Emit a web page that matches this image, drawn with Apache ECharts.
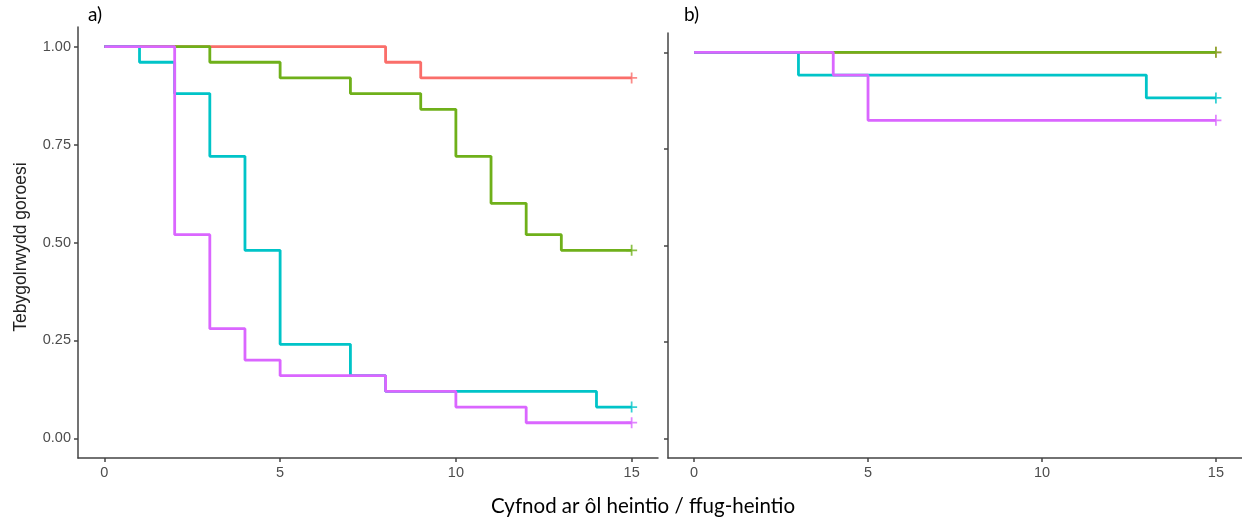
<!DOCTYPE html>
<html>
<head>
<meta charset="utf-8">
<script src="https://cdn.jsdelivr.net/npm/echarts@6/dist/echarts.min.js"></script>
<style>
  html, body { margin: 0; padding: 0; background: #ffffff; }
  #chart { width: 1242px; height: 517px; }
</style>
</head>
<body>
<div id="chart"></div>
<script>
// Kaplan–Meier survival curves, two panels
const xTicks = [0, 5, 10, 15];
const yTicks = [0, 0.25, 0.5, 0.75, 1];
const endTime = 15;

// Panel a
const aRedTimes = [0, 8, 9, 15];
const aRedSurv = [1, 0.96, 0.92, 0.92];
const aGreenTimes = [0, 3, 5, 7, 9, 10, 11, 12, 13, 15];
const aGreenSurv = [1, 0.96, 0.92, 0.88, 0.84, 0.72, 0.60, 0.52, 0.48, 0.48];
const aCyanTimes = [0, 1, 2, 3, 4, 5, 7, 8, 14, 15];
const aCyanSurv = [1, 0.96, 0.88, 0.72, 0.48, 0.24, 0.16, 0.12, 0.08, 0.08];
const aMagentaTimes = [0, 2, 3, 4, 5, 8, 10, 12, 15];
const aMagentaSurv = [1, 0.52, 0.28, 0.20, 0.16, 0.12, 0.08, 0.04, 0.04];

// Panel b
const bRedTimes = [0, 15];
const bRedSurv = [1, 1];
const bGreenTimes = [0, 15];
const bGreenSurv = [1, 1];
const bCyanTimes = [0, 3, 13, 15];
const bCyanSurv = [1, 0.941, 0.882, 0.882];
const bMagentaTimes = [0, 4, 5, 15];
const bMagentaSurv = [1, 0.941, 0.824, 0.824];

const colors = ['#FA6E6A', '#6FB01A', '#00C4C8', '#DA66FF'];
const plusSymbol = 'path://M4.2,0H5.8V4.2H10V5.8H5.8V10H4.2V5.8H0V4.2H4.2Z';

function pairs(t, s) { return t.map((v, i) => [v, s[i]]); }

function stepSeries(t, s, color, gi) {
  return [{
    type: 'line', xAxisIndex: gi, yAxisIndex: gi,
    step: 'end', data: pairs(t, s), showSymbol: false, silent: true,
    lineStyle: { color: color, width: 2.8 }, itemStyle: { color: color },
    animation: false
  }, {
    type: 'scatter', xAxisIndex: gi, yAxisIndex: gi,
    data: [[endTime, s[s.length - 1]]], symbol: plusSymbol, symbolSize: 11,
    itemStyle: { color: color }, silent: true, animation: false
  }];
}

const axisLineStyle = { color: '#444444', width: 1.5 };

function xAxis(gi) {
  return {
    type: 'value', gridIndex: gi, min: -0.75, max: 15.75,
    splitLine: { show: false },
    axisLine: { show: true, lineStyle: axisLineStyle, onZero: false },
    axisTick: { show: true, length: 4, lineStyle: axisLineStyle, customValues: xTicks },
    axisLabel: { customValues: xTicks, color: '#4D4D4D', fontFamily: 'Liberation Sans', fontSize: 14.5, margin: 7 }
  };
}
function yAxis(gi, labels) {
  return {
    type: 'value', gridIndex: gi, min: -0.05, max: 1.05,
    splitLine: { show: false },
    axisLine: { show: true, lineStyle: axisLineStyle, onZero: false },
    axisTick: { show: true, length: 4, lineStyle: axisLineStyle, customValues: yTicks },
    axisLabel: { show: labels, customValues: yTicks, color: '#4D4D4D', fontFamily: 'Liberation Sans', fontSize: 14.5, margin: 7,
      formatter: v => v.toFixed(2) }
  };
}

const series = [].concat(
  stepSeries(aRedTimes, aRedSurv, colors[0], 0),
  stepSeries(aGreenTimes, aGreenSurv, colors[1], 0),
  stepSeries(aCyanTimes, aCyanSurv, colors[2], 0),
  stepSeries(aMagentaTimes, aMagentaSurv, colors[3], 0),
  stepSeries(bRedTimes, bRedSurv, colors[0], 1),
  stepSeries(bGreenTimes, bGreenSurv, colors[1], 1),
  stepSeries(bCyanTimes, bCyanSurv, colors[2], 1),
  stepSeries(bMagentaTimes, bMagentaSurv, colors[3], 1)
);

const chart = echarts.init(document.getElementById('chart'), null, { renderer: 'canvas' });
chart.setOption({
  backgroundColor: '#ffffff',
  animation: false,
  grid: [
    { left: 78, top: 27, width: 580, height: 431 },
    { left: 668, top: 33, width: 574, height: 425 }
  ],
  xAxis: [xAxis(0), xAxis(1)],
  yAxis: [yAxis(0, true), yAxis(1, false)],
  series: series,
  graphic: [
    { type: 'text', left: 88, top: 5, style: { text: 'a)', font: '19px Lato', fill: '#000000' } },
    { type: 'text', left: 684, top: 5, style: { text: 'b)', font: '19px Lato', fill: '#000000' } },
    { type: 'text', x: 643, y: 506, style: { text: 'Cyfnod ar ôl heintio / ffug-heintio', font: '20.5px Lato', fill: '#000000', align: 'center', verticalAlign: 'middle' } },
    { type: 'text', x: 21, y: 247, rotation: Math.PI / 2, style: { text: 'Tebygolrwydd goroesi', font: '17.5px "Liberation Sans"', fill: '#222222', align: 'center', verticalAlign: 'middle' } }
  ]
});
</script>
</body>
</html>
